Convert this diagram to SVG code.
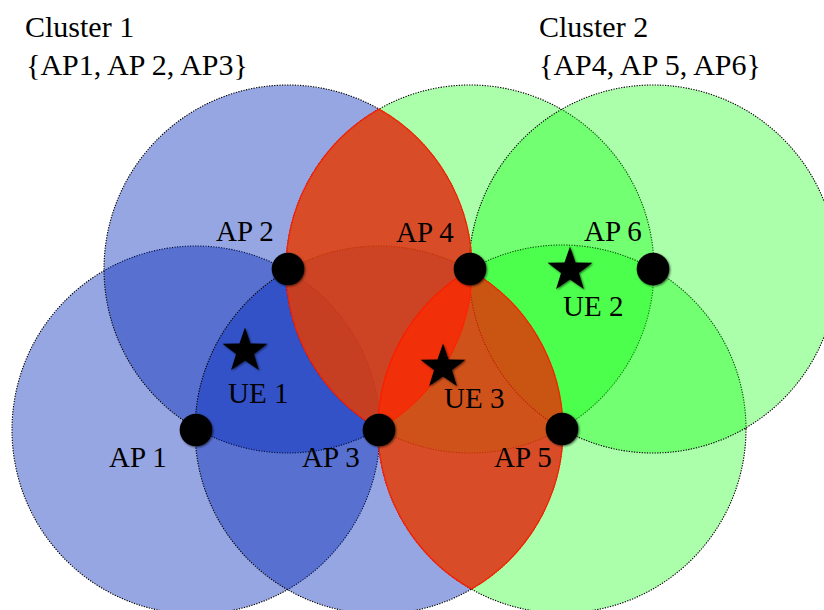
<svg xmlns="http://www.w3.org/2000/svg" width="824" height="610" viewBox="0 0 824 610">
<style>
  .t { font-family: 'Liberation Serif', 'DejaVu Serif', 'Times New Roman', serif; font-size: 29px; fill: #000; }
  .big { font-size: 30px; }
  .blue { fill: rgb(0,40,185); fill-opacity: 0.41; stroke: #000; stroke-width: 1.1; stroke-dasharray: 1.3 1.3; }
  .green { fill: #00ff00; fill-opacity: 0.33; stroke: #000; stroke-width: 1.1; stroke-dasharray: 1.3 1.3; }
  .lens { fill: rgb(255,37,3); fill-opacity: 0.75; stroke: rgb(255,30,0); stroke-width: 1.2; }
  .ap { fill: #000; filter: url(#sh); }
  .star { fill: #000; filter: url(#sh); }
</style>
<defs>
  <filter id="sh" x="-30%" y="-30%" width="160%" height="160%">
    <feGaussianBlur in="SourceAlpha" stdDeviation="1.2"/>
    <feOffset dx="0.5" dy="0.8" result="b"/>
    <feComponentTransfer><feFuncA type="linear" slope="0.6"/></feComponentTransfer>
    <feMerge><feMergeNode/><feMergeNode in="SourceGraphic"/></feMerge>
  </filter>
  <polygon id="starShape" points="0,-23.6 5.53,-7.6 22.45,-7.29 8.94,2.9 13.87,19.09 0,9.4 -13.87,19.09 -8.94,2.9 -22.45,-7.29 -5.53,-7.6"/>
</defs>

<g id="coverage-cluster1">
  <circle class="blue" cx="196" cy="430" r="184"/>
  <circle class="blue" cx="288" cy="269" r="184"/>
  <circle class="blue" cx="379" cy="430" r="184"/>
</g>
<g id="coverage-cluster2">
  <circle class="green" cx="470" cy="269" r="184"/>
  <circle class="green" cx="562" cy="429" r="184"/>
  <circle class="green" cx="653" cy="269" r="184"/>
</g>
<g id="overlap">
  <path class="lens" d="M379,109.1 A184,184 0 0 0 379,428.9 A184,184 0 0 0 379,109.1 Z"/>
  <path class="lens" d="M469.6,269.9 A184,184 0 0 0 471.4,589.1 A184,184 0 0 0 469.6,269.9 Z"/>
</g>

<g id="connectors"></g>

<g font-family="Liberation Serif, DejaVu Serif, serif" font-size="29">
<g id="cluster1-label">
  <text class="t big" x="25" y="37">Cluster 1</text>
  <text class="t big" x="26" y="75">{AP1, AP 2, AP3}</text>
</g>
<g id="cluster2-label">
  <text class="t big" x="539" y="37">Cluster 2</text>
  <text class="t big" x="539" y="75">{AP4, AP 5, AP6}</text>
</g>

<g id="AP1"><circle class="ap" cx="196" cy="430" r="16.3"/><text class="t" x="109" y="467">AP 1</text></g>
<g id="AP2"><circle class="ap" cx="288" cy="269" r="16.3"/><text class="t" x="216" y="241">AP 2</text></g>
<g id="AP3"><circle class="ap" cx="379" cy="430" r="16.3"/><text class="t" x="302" y="467">AP 3</text></g>
<g id="AP4"><circle class="ap" cx="470" cy="269" r="16.3"/><text class="t" x="396" y="242">AP 4</text></g>
<g id="AP5"><circle class="ap" cx="562" cy="429" r="16.3"/><text class="t" x="494" y="467">AP 5</text></g>
<g id="AP6"><circle class="ap" cx="653" cy="269" r="16.3"/><text class="t" x="584" y="241">AP 6</text></g>

<g id="UE1"><use class="star" href="#starShape" transform="translate(245,351)"/><text class="t" x="228" y="403">UE 1</text></g>
<g id="UE2"><use class="star" href="#starShape" transform="translate(570,270)"/><text class="t" x="563" y="316">UE 2</text></g>
<g id="UE3"><use class="star" href="#starShape" transform="translate(443,367)"/><text class="t" x="444" y="408">UE 3</text></g>
</g>
</svg>
